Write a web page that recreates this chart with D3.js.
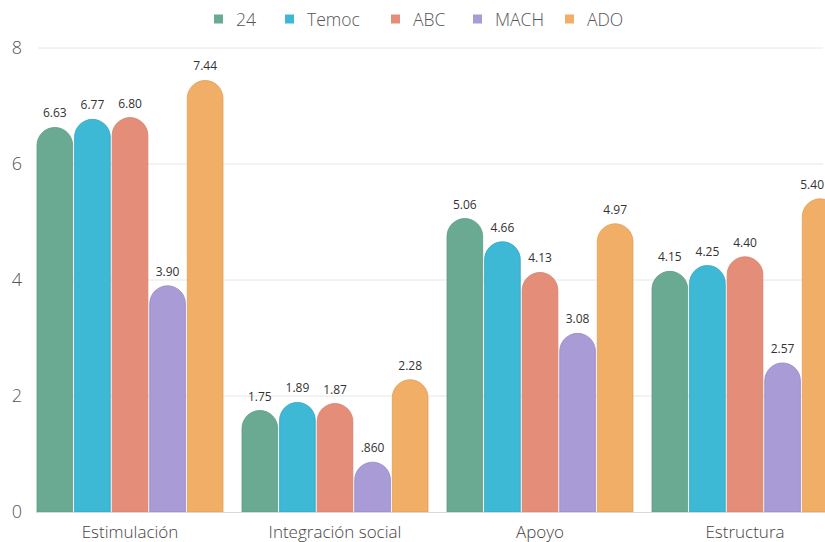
<!DOCTYPE html>
<html>
<head>
<meta charset="utf-8">
<script src="https://cdn.jsdelivr.net/npm/d3@7"></script>
<style>
  html, body { margin: 0; padding: 0; background: #fff; }
  svg { display: block; font-family: "Open Sans", "Noto Sans", sans-serif; }
</style>
</head>
<body>
<svg id="chart" width="825" height="542"></svg>
<script>
// Scores per dimension for each group
const categories = ["Estimulación", "Integración social", "Apoyo", "Estructura"];
const seriesNames = ["24", "Temoc", "ABC", "MACH", "ADO"];
const values24    = [6.63, 1.75, 5.06, 4.15];
const valuesTemoc = [6.77, 1.89, 4.66, 4.25];
const valuesABC   = [6.80, 1.87, 4.13, 4.40];
const valuesMACH  = [3.90, 0.860, 3.08, 2.57];
const valuesADO   = [7.44, 2.28, 4.97, 5.40];
const valueLabels24    = ["6.63", "1.75", "5.06", "4.15"];
const valueLabelsTemoc = ["6.77", "1.89", "4.66", "4.25"];
const valueLabelsABC   = ["6.80", "1.87", "4.13", "4.40"];
const valueLabelsMACH  = ["3.90", ".860", "3.08", "2.57"];
const valueLabelsADO   = ["7.44", "2.28", "4.97", "5.40"];
const yTicks = [0, 2, 4, 6, 8];

const colors = ["#6aaa93", "#3db8d5", "#e48e79", "#a99bd6", "#f1ae66"];
const strokes = ["#5e9a85", "#33a6c2", "#d67f6a", "#9789c6", "#e49d55"];

const seriesValues = [values24, valuesTemoc, valuesABC, valuesMACH, valuesADO];
const seriesLabels = [valueLabels24, valueLabelsTemoc, valueLabelsABC, valueLabelsMACH, valueLabelsADO];

const W = 825;
const svg = d3.select("#chart");

const y = d3.scaleLinear().domain([0, 8]).range([512, 48]);

// Outer band per category; the last group runs past the right edge
const pOuter = 0.0927;
const x0 = d3.scaleBand()
  .domain(categories)
  .range([27.5, 27.5 + 4 * 205])
  .paddingInner(pOuter)
  .paddingOuter(pOuter / 2);

const x1 = d3.scaleBand()
  .domain(seriesNames)
  .range([0, x0.bandwidth()])
  .paddingInner(0.05);

// Gridlines
const grid = svg.append("g");
grid.selectAll("line.grid")
  .data(yTicks.filter(t => t !== 0))
  .join("line")
  .attr("class", "grid")
  .attr("x1", 38).attr("x2", 823)
  .attr("y1", d => y(d)).attr("y2", d => y(d))
  .attr("stroke", "#e6e6e6").attr("stroke-width", 1);

// Y tick labels
svg.append("g").selectAll("text")
  .data(yTicks)
  .join("text")
  .attr("x", 17)
  .attr("y", d => y(d))
  .attr("dy", "0.35em")
  .attr("text-anchor", "middle")
  .attr("fill", "#555")
  .attr("font-size", 18)
  .attr("font-weight", 300)
  .text(d => d);

// Bars with rounded caps
const flat = [];
categories.forEach((c, ci) => {
  seriesNames.forEach((s, si) => {
    flat.push({ cat: c, series: s, si, value: seriesValues[si][ci], label: seriesLabels[si][ci] });
  });
});

function barPath(d) {
  const w = x1.bandwidth();
  const left = x0(d.cat) + x1(d.series);
  const top = y(d.value);
  const bottom = y(0);
  const r = Math.min(w / 2, bottom - top);
  return `M${left},${bottom}` +
    `L${left},${top + r}` +
    `A${w / 2},${r} 0 0 1 ${left + w},${top + r}` +
    `L${left + w},${bottom}Z`;
}

svg.append("g").selectAll("path")
  .data(flat)
  .join("path")
  .attr("d", barPath)
  .attr("fill", d => colors[d.si])
  .attr("stroke", d => strokes[d.si])
  .attr("stroke-width", 0.8);

// Baseline
svg.append("line")
  .attr("x1", 36).attr("x2", 823)
  .attr("y1", y(0) + 0.5).attr("y2", y(0) + 0.5)
  .attr("stroke", "#d9d9d9").attr("stroke-width", 1);

// Value labels, kept inside the drawing area
svg.append("g").selectAll("text")
  .data(flat)
  .join("text")
  .attr("x", d => x0(d.cat) + x1(d.series) + x1.bandwidth() / 2)
  .attr("y", d => y(d.value) - 10)
  .attr("text-anchor", "middle")
  .attr("fill", "#333")
  .attr("font-size", 12)
  .text(d => d.label)
  .each(function () {
    const len = this.getComputedTextLength();
    const cx = +this.getAttribute("x");
    if (cx + len / 2 > W - 1) this.setAttribute("x", W - 1 - len / 2);
  });

// Category labels
svg.append("g").selectAll("text")
  .data(categories)
  .join("text")
  .attr("x", d => x0(d) + x0.bandwidth() / 2)
  .attr("y", 538)
  .attr("text-anchor", "middle")
  .attr("fill", "#444")
  .attr("font-size", 17)
  .attr("font-weight", 300)
  .text(d => d);

// Legend
const legendX = [214, 285, 391, 473, 565];
const legend = svg.append("g");
seriesNames.forEach((s, i) => {
  legend.append("rect")
    .attr("x", legendX[i]).attr("y", 14.5)
    .attr("width", 9).attr("height", 9)
    .attr("fill", colors[i]);
  legend.append("text")
    .attr("x", legendX[i] + 22).attr("y", 19.5)
    .attr("dy", "0.35em")
    .attr("fill", "#555")
    .attr("font-size", 17.5)
    .attr("font-weight", 300)
    .text(s);
});
</script>
</body>
</html>
